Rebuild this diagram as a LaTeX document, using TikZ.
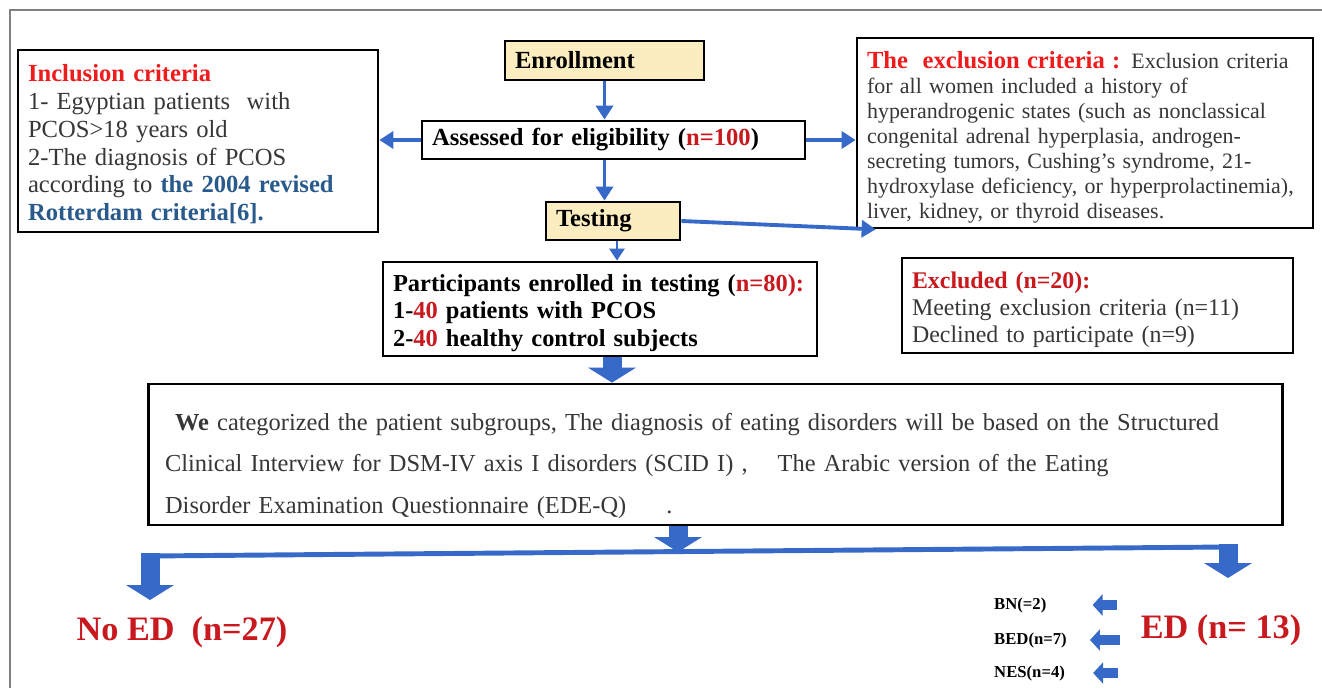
\documentclass[tikz,border=0pt]{standalone}
\usepackage{fontspec}
\setmainfont{Liberation Serif}
\usetikzlibrary{arrows.meta,positioning,calc}
\definecolor{flowblue}{RGB}{55,105,200}
\definecolor{boxyellow}{RGB}{252,237,192}
\definecolor{headred}{RGB}{238,28,28}
\definecolor{numred}{RGB}{200,25,30}
\definecolor{refblue}{RGB}{40,90,140}
\definecolor{bodygray}{RGB}{55,55,55}
\tikzset{
  critbox/.style ={draw=black,line width=1.6pt,fill=white,inner xsep=0.2cm,inner ysep=0pt,align=left},
  stepbox/.style ={critbox,fill=boxyellow,font=\bfseries\fontsize{14}{16}\selectfont},
  flow/.style    ={draw=flowblue,line width=2.2pt,-{Triangle[width=0.34cm,length=0.28cm]}},
  flowthin/.style={draw=flowblue,line width=1.5pt,-{Triangle[width=0.3cm,length=0.24cm]}},
  fat/.style     ={draw=flowblue,line width=0.38cm,-{Triangle[width=0.95cm,length=0.3cm]}},
  minifat/.style ={draw=flowblue,line width=0.2cm,-{Triangle[width=0.42cm,length=0.2cm]}},
  branch/.style  ={draw=flowblue,line width=2.8pt},
  result/.style  ={text=numred,font=\bfseries\fontsize{19.5}{22}\selectfont},
  subtype/.style ={anchor=west,font=\bfseries\fontsize{9.5}{11}\selectfont},
}
\begin{document}
\begin{tikzpicture}[x=0.02cm,y=-0.02cm]
  \useasboundingbox (0,0) rectangle (1322,688);
  \draw[gray,line width=0.6pt] (10,688) -- (10,10) -- (1322,10);

  % top column
  \node[stepbox,minimum width=3.98cm,minimum height=0.78cm,text width=3.58cm](enroll) at (604.5,60.5){Enrollment};
  \node[critbox,minimum height=0.76cm,text width=7.26cm,font=\bfseries\fontsize{14}{16}\selectfont](assess) at (613.5,140)
    {Assessed for eligibility (\textcolor{numred}{n=100})};
  \node[stepbox,minimum width=2.68cm,minimum height=0.76cm,text width=2.28cm](testing) at (613,221){Testing};

  % criteria
  \node[critbox,minimum height=3.64cm,text width=6.8cm,text=bodygray,font=\fontsize{14}{15.9}\selectfont](incl) at (198,141)
    {\rule{0pt}{0.47cm}\textcolor{headred}{\bfseries Inclusion criteria}\\
     1- Egyptian patients~ with\\
     PCOS>18 years old\\
     2-The diagnosis of PCOS\\
     according to \textcolor{refblue}{\bfseries the 2004 revised}\\
     \textcolor{refblue}{\bfseries Rotterdam criteria[6].}};
  \node[critbox,minimum height=3.8cm,text width=8.72cm,text=bodygray,font=\fontsize{12.5}{14.2}\selectfont](excl) at (1085,133)
    {\rule{0pt}{0.52cm}\textcolor{headred}{\bfseries\fontsize{14}{14.2}\selectfont The~ exclusion criteria :} Exclusion criteria\\
     for all women included a history of\\
     hyperandrogenic states (such as nonclassical\\
     congenital adrenal hyperplasia, androgen-\\
     secreting tumors, Cushing’s syndrome, 21-\\
     hydroxylase deficiency, or hyperprolactinemia),\\
     liver, kidney, or thyroid diseases.};

  % enrolled / excluded
  \node[critbox,minimum height=1.88cm,text width=8.28cm,font=\bfseries\fontsize{13.9}{15.6}\selectfont](part) at (600,309)
    {\rule{0pt}{0.5cm}Participants enrolled in testing (\textcolor{numred}{n=80):}\\
     1-\textcolor{numred}{40} patients with PCOS\\
     2-\textcolor{numred}{40} healthy control subjects};
  \node[critbox,minimum height=1.9cm,text width=7.42cm,text=bodygray,font=\fontsize{13.6}{15.6}\selectfont](excld) at (1097.5,305.5)
    {\rule{0pt}{0.5cm}\textcolor{numred}{\bfseries Excluded (n=20):}\\
     Meeting exclusion criteria (n=11)\\
     Declined to participate (n=9)};

  \node[critbox,minimum height=2.82cm,inner xsep=0.34cm,text width=22.02cm,text=bodygray,font=\fontsize{13.9}{23.5}\selectfont](big) at (715.5,454.5)
    {\rule{0pt}{0.8cm}\hspace{0.2cm}\textbf{We} categorized the patient subgroups, The diagnosis of eating disorders will be based on the Structured\\
     Clinical Interview for DSM-IV axis I disorders (SCID I) ,\hspace{0.6cm}The Arabic version of the Eating\\
     Disorder Examination Questionnaire (EDE-Q)\hspace{0.8cm}.};

  % outcomes
  \node[result](noed) at (182,632){No ED~ (n=27)};
  \node[result](ed) at (1221,630){ED (n= 13)};
  \node[subtype](bn) at (988,605){BN(=2)};
  \node[subtype](bed) at (988,640){BED(n=7)};
  \node[subtype](nes) at (988,673){NES(n=4)};

  \draw[flow] (enroll) -- (enroll |- assess.north);
  \draw[flow] (enroll |- assess.south) -- (enroll |- testing.north);
  \draw[flow] (assess.west) -- (incl.east |- assess.west);
  \draw[flow] (assess.east) -- (excl.west |- assess.east);
  \draw[flow] (testing.east) -- ($(excl.south west)+(20,0)$);
  \draw[flowthin] ([xshift=0.08cm]testing.south) -- ([xshift=0.08cm]testing.south |- part.north);
  \draw[fat] ([xshift=0.24cm]part.south) -- ([xshift=0.24cm]part.south |- big.north);

  \coordinate (split) at (678,552);
  \coordinate (lturn) at (150,556);
  \coordinate (rturn) at (1228,547);
  \coordinate (ldrop) at (150,600);
  \coordinate (rdrop) at (1228,578);
  \draw[fat] (split |- big.south) -- (split);
  \draw[branch] (lturn) -- (rturn);
  \draw[fat] ([yshift=0.05cm]lturn) -- (ldrop);
  \draw[fat] ([yshift=0.05cm]rturn) -- (rdrop);
  \foreach \lab/\sa/\sb in {bn/0.36/0.8,bed/0.3/0.34,nes/0.34/0.44}
    \draw[minifat,shorten <=\sa cm,shorten >=\sb cm] (ed.west |- \lab) -- (\lab.east);
\end{tikzpicture}
\end{document}
